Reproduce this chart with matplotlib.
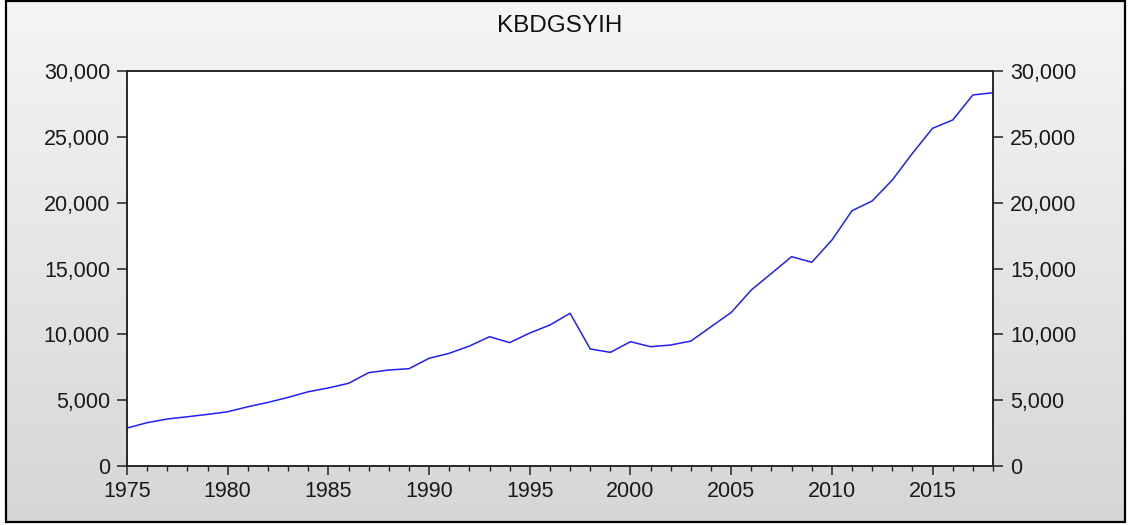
import numpy as np
import matplotlib
matplotlib.use("Agg")
import matplotlib.pyplot as plt
from matplotlib.ticker import FuncFormatter, MultipleLocator
from matplotlib.patches import Rectangle
from matplotlib.colors import LinearSegmentedColormap

years = list(range(1975, 2019))
values = [2880, 3290, 3570, 3740, 3920, 4120, 4500, 4830, 5210, 5640,
          5930, 6280, 7090, 7290, 7390, 8180, 8560, 9110, 9820, 9370,
          10100, 10710, 11600, 8890, 8630, 9440, 9060, 9190, 9490, 10580,
          11660, 13370, 14630, 15900, 15470, 17160, 19390, 20130, 21720, 23750,
          25650, 26280, 28180, 28350]
title = "KBDGSYIH"
y_ticks = [0, 5000, 10000, 15000, 20000, 25000, 30000]
x_ticks = [1975, 1980, 1985, 1990, 1995, 2000, 2005, 2010, 2015]

plt.rcParams['font.family'] = ['Liberation Sans', 'DejaVu Sans']

W, H = 1129, 525
fig = plt.figure(figsize=(W / 100, H / 100), dpi=100)
fig.patch.set_facecolor('white')

# background gradient inside the frame
bg = fig.add_axes([0, 0, 1, 1], zorder=-10)
bg.set_xlim(0, W)
bg.set_ylim(H, 0)
bg.axis('off')
grad = np.linspace(0, 1, 256).reshape(-1, 1)
cmap = LinearSegmentedColormap.from_list('g', ['#f5f5f5', '#d6d6d6'])
bg.imshow(grad, cmap=cmap, aspect='auto', extent=[6, 1125, 522, 1], interpolation='bilinear')
bg.add_patch(Rectangle((6, 1), 1119, 521, fill=False, edgecolor='black', linewidth=1.6))

left, right, top, bottom = 127, 993, 71, 466
ax = fig.add_axes([left / W, 1 - bottom / H, (right - left) / W, (bottom - top) / H])
ax.set_facecolor('white')
ax.plot(years, values, color='#2020ff', linewidth=1.1)

ax.set_xlim(1975, 2018)
ax.set_ylim(0, 30000)
ax.set_yticks(y_ticks)
ax.set_xticks(x_ticks)
ax.xaxis.set_minor_locator(MultipleLocator(1))
fmt = FuncFormatter(lambda v, p: f"{int(v):,}")
ax.yaxis.set_major_formatter(fmt)

for s in ax.spines.values():
    s.set_color('#222222')
    s.set_linewidth(1.1)

ax.tick_params(axis='y', which='major', direction='out', length=7.2, width=1.1,
               color='#222222', labelsize=15.5, pad=5, labelcolor='#1a1a1a')
ax.tick_params(axis='x', which='major', direction='out', length=6.5, width=1.1,
               color='#222222', labelsize=15.5, pad=4, labelcolor='#1a1a1a')
ax.tick_params(axis='x', which='minor', direction='out', length=3.6, width=1.0,
               color='#222222')

ax2 = ax.twinx()
ax2.set_ylim(0, 30000)
ax2.set_yticks(y_ticks)
ax2.yaxis.set_major_formatter(fmt)
ax2.tick_params(axis='y', which='major', direction='out', length=7.2, width=1.1,
                color='#222222', labelsize=15.5, pad=5, labelcolor='#1a1a1a')
for s in ax2.spines.values():
    s.set_color('#222222')
    s.set_linewidth(1.1)

fig.text(560 / W, 1 - 26 / H, title, ha='center', va='center', fontsize=17.5,
         color='#111111')

fig.savefig('out.png', dpi=100)
